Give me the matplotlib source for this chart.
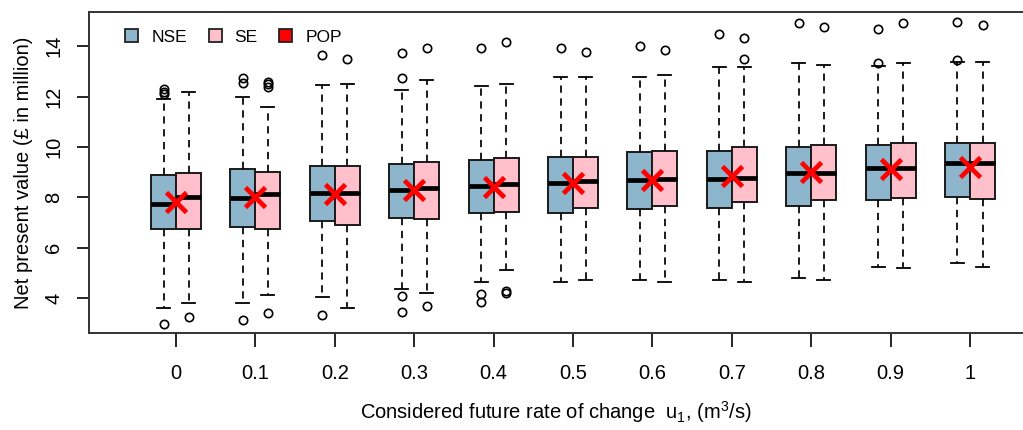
import matplotlib
matplotlib.use("Agg")
import matplotlib.pyplot as plt
from matplotlib.patches import Patch

plt.rcParams["font.family"] = ["Liberation Sans", "DejaVu Sans"]
plt.rcParams["mathtext.fontset"] = "custom"
plt.rcParams["mathtext.rm"] = "Liberation Sans"
plt.rcParams["mathtext.it"] = "Liberation Sans"

# future rate of change categories
rates = ["0", "0.1", "0.2", "0.3", "0.4", "0.5", "0.6", "0.7", "0.8", "0.9", "1"]

# NSE boxes (values in million)
nse_q1 = [6.75, 6.82, 7.07, 7.20, 7.37, 7.37, 7.53, 7.60, 7.66, 7.90, 8.03]
nse_med = [7.74, 7.97, 8.17, 8.30, 8.46, 8.56, 8.69, 8.73, 8.96, 9.18, 9.36]
nse_q3 = [8.89, 9.12, 9.25, 9.32, 9.49, 9.62, 9.79, 9.86, 10.02, 10.08, 10.15]
nse_lo = [3.62, 3.80, 4.06, 4.36, 4.63, 4.63, 4.73, 4.73, 4.82, 5.25, 5.41]
nse_hi = [11.91, 11.98, 12.46, 12.27, 12.42, 12.79, 12.79, 13.19, 13.35, 13.22, 13.39]
nse_out = [
    [12.1, 12.2, 12.3, 2.98],
    [12.55, 12.75, 3.12],
    [13.65, 3.35],
    [12.73, 13.72, 4.09, 3.44],
    [13.92, 4.16, 3.87],
    [13.95],
    [14.01],
    [14.48],
    [14.91],
    [13.35, 14.69],
    [13.46, 14.98],
]

# SE boxes
se_q1 = [6.75, 6.75, 6.91, 7.15, 7.44, 7.60, 7.66, 7.81, 7.90, 7.97, 7.94]
se_med = [8.03, 8.13, 8.19, 8.37, 8.52, 8.65, 8.73, 8.79, 8.96, 9.18, 9.36]
se_q3 = [8.96, 9.02, 9.25, 9.40, 9.56, 9.62, 9.86, 10.02, 10.08, 10.15, 10.15]
se_lo = [3.80, 4.12, 3.60, 4.20, 5.12, 4.73, 4.63, 4.63, 4.73, 5.19, 5.25]
se_hi = [12.20, 11.60, 12.49, 12.66, 12.49, 12.79, 12.86, 13.19, 13.26, 13.32, 13.39]
se_out = [
    [3.27],
    [12.4, 12.5, 12.6, 3.43],
    [13.48],
    [13.92, 3.7],
    [14.18, 4.3, 4.2],
    [13.79],
    [13.85],
    [13.48, 14.32],
    [14.78],
    [14.91],
    [14.85],
]

# POP point estimates
pop = [7.82, 8.00, 8.13, 8.30, 8.40, 8.59, 8.69, 8.87, 9.00, 9.12, 9.22]

nse_col = "#8DB6CD"
se_col = "#FFC0CB"


def make_stats(q1, med, q3, lo, hi, out):
    stats = []
    for i in range(len(q1)):
        stats.append({"q1": q1[i], "med": med[i], "q3": q3[i],
                      "whislo": lo[i], "whishi": hi[i], "fliers": out[i]})
    return stats


fig = plt.figure(figsize=(10.23, 4.30), dpi=100)
ax = fig.add_axes([89 / 1023, 97 / 430, (1023 - 89) / 1023, 321 / 430])

x = list(range(len(rates)))
w = 0.315

for stats, off, col in [(make_stats(nse_q1, nse_med, nse_q3, nse_lo, nse_hi, nse_out), -w / 2, nse_col),
                        (make_stats(se_q1, se_med, se_q3, se_lo, se_hi, se_out), w / 2, se_col)]:
    ax.bxp(stats, positions=[i + off for i in x], widths=w, capwidths=0.165,
           patch_artist=True, manage_ticks=False,
           boxprops=dict(facecolor=col, edgecolor="#1a1a1a", linewidth=1.4),
           medianprops=dict(color="black", linewidth=3.4, solid_capstyle="butt"),
           whiskerprops=dict(color="black", linewidth=1.25, linestyle=(0, (4.2, 3.2))),
           capprops=dict(color="black", linewidth=1.3),
           flierprops=dict(marker="o", markersize=6, markerfacecolor="none",
                           markeredgecolor="black", markeredgewidth=1.2))

ax.plot(x, pop, linestyle="none", marker="x", color="red", markersize=14,
        markeredgewidth=3.4, zorder=5)

ax.set_xlim(-1.096, (1023 - 176) / 79.4)
ax.set_ylim(2.62, 15.36)
ax.set_xticks(x)
ax.set_xticklabels(rates)
ax.set_yticks([4, 6, 8, 10, 12, 14])
ax.set_yticklabels(["4", "6", "8", "10", "12", "14"], rotation=90, va="center")
ax.tick_params(axis="x", length=10, width=1.2, pad=12, labelsize=14.5)
ax.tick_params(axis="y", length=8.5, width=1.2, pad=10, labelsize=14.5)

for s in ["left", "bottom", "top"]:
    ax.spines[s].set_linewidth(1.4)
    ax.spines[s].set_color("#333333")
ax.spines["right"].set_visible(False)

ax.set_ylabel("Net present value (£ in million)", fontsize=14.5, labelpad=8)
ax.set_xlabel(r"Considered future rate of change  u$_{1}$, (m$^{3}$/s)", fontsize=14.5, labelpad=12)

handles = [Patch(facecolor=nse_col, edgecolor="#222222", linewidth=1.3, label="NSE"),
           Patch(facecolor=se_col, edgecolor="#222222", linewidth=1.3, label="SE"),
           Patch(facecolor="red", edgecolor="#222222", linewidth=1.3, label="POP")]
ax.legend(handles=handles, ncol=3, frameon=False, loc="upper left",
          bbox_to_anchor=(0.022, 0.995), fontsize=12.5, handlelength=0.75,
          handleheight=0.75, handletextpad=0.75, columnspacing=1.25)

fig.savefig("out.png", dpi=100)
